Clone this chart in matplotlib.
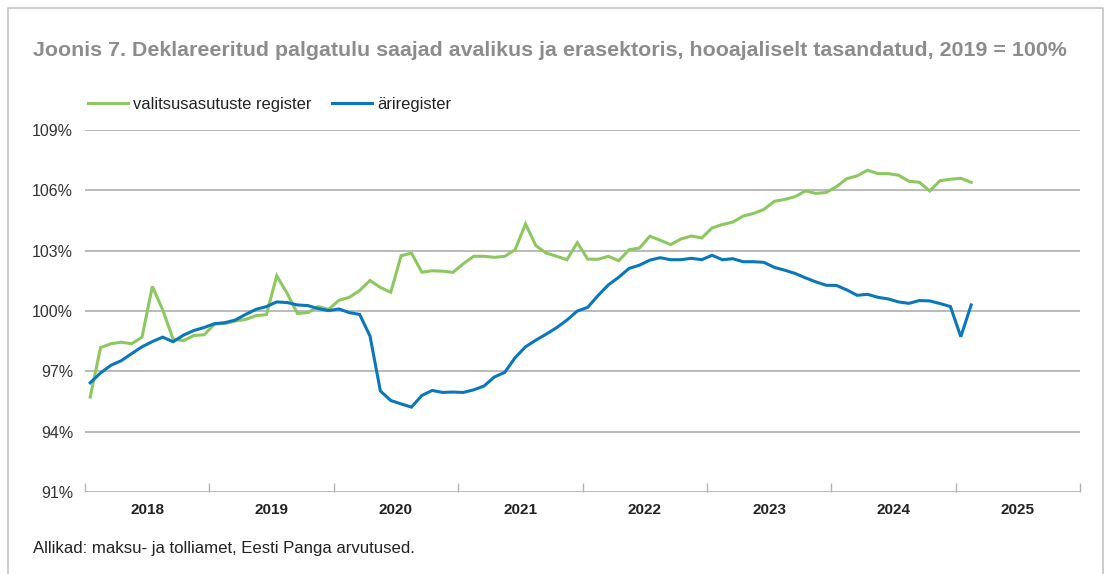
import matplotlib
matplotlib.use("Agg")
import matplotlib.pyplot as plt
from matplotlib.lines import Line2D
import numpy as np

plt.rcParams['font.family'] = ['Liberation Sans', 'DejaVu Sans']

title = "Joonis 7. Deklareeritud palgatulu saajad avalikus ja erasektoris, hooajaliselt tasandatud, 2019 = 100%"
source = "Allikad: maksu- ja tolliamet, Eesti Panga arvutused."
series_names = ["valitsusasutuste register", "äriregister"]
years = [2018, 2019, 2020, 2021, 2022, 2023, 2024, 2025]
start_year = 2018  # first month: January 2018, monthly data

valitsus = [
    95.72, 98.18, 98.37, 98.45, 98.37, 98.70, 101.22, 100.05, 98.60, 98.52, 98.78, 98.82,
    99.35, 99.38, 99.50, 99.58, 99.77, 99.82, 101.75, 100.88, 99.88, 99.92, 100.22, 100.08,
    100.53, 100.68, 101.02, 101.52, 101.17, 100.93, 102.75, 102.88, 101.93, 102.00, 101.98, 101.92,
    102.35, 102.72, 102.72, 102.67, 102.72, 103.05, 104.33, 103.25, 102.88, 102.72, 102.55, 103.40,
    102.58, 102.57, 102.72, 102.50, 103.05, 103.13, 103.72, 103.52, 103.30, 103.58, 103.73, 103.63,
    104.13, 104.30, 104.42, 104.72, 104.85, 105.05, 105.45, 105.55, 105.68, 105.97, 105.85, 105.89,
    106.18, 106.58, 106.72, 107.00, 106.83, 106.83, 106.75, 106.45, 106.40, 105.97, 106.48, 106.55,
    106.60, 106.40,
]
ari = [
    96.43, 96.92, 97.30, 97.53, 97.88, 98.22, 98.48, 98.70, 98.47, 98.80, 99.03, 99.18,
    99.37, 99.42, 99.55, 99.83, 100.08, 100.22, 100.45, 100.42, 100.30, 100.27, 100.12, 100.02,
    100.10, 99.92, 99.83, 98.75, 96.02, 95.55, 95.38, 95.22, 95.80, 96.05, 95.95, 95.97,
    95.95, 96.08, 96.27, 96.72, 96.95, 97.68, 98.22, 98.55, 98.85, 99.17, 99.55, 100.00,
    100.18, 100.77, 101.30, 101.68, 102.12, 102.28, 102.53, 102.65, 102.55, 102.55, 102.62, 102.55,
    102.77, 102.55, 102.60, 102.45, 102.45, 102.42, 102.17, 102.03, 101.87, 101.65, 101.45, 101.28,
    101.27, 101.05, 100.78, 100.83, 100.68, 100.60, 100.45, 100.38, 100.52, 100.50, 100.37, 100.22,
    98.72, 100.30,
]
yticks = [91, 94, 97, 100, 103, 106, 109]

GREEN = '#8cc85f'
BLUE = '#0a77bb'
GRID = '#b4b4b4'

W, H = 1108, 574
fig = plt.figure(figsize=(W / 100, H / 100), dpi=100)
ax = fig.add_axes([85 / W, 1 - 492 / H, (1080 - 85) / W, (492 - 130) / H])

x_g = start_year + (np.arange(len(valitsus)) + 0.5) / 12
x_b = start_year + (np.arange(len(ari)) + 0.5) / 12
l1, = ax.plot(x_g, valitsus, color=GREEN, lw=2.2, solid_joinstyle='miter', zorder=3)
l2, = ax.plot(x_b, ari, color=BLUE, lw=2.2, solid_joinstyle='miter', zorder=4)

ax.set_xlim(years[0], years[-1] + 1)
ax.set_ylim(yticks[0], yticks[-1])
ax.set_yticks(yticks)
ax.set_yticklabels([f"{v}%" for v in yticks], fontsize=11.5, color='#333333')
for v in yticks:
    ax.axhline(v, color=GRID, lw=1.3, zorder=1)

ax.set_xticks(list(range(years[0], years[-1] + 2)))
ax.set_xticklabels([])
ax.set_xticks([y + 0.5 for y in years], minor=True)
ax.set_xticklabels([str(y) for y in years], minor=True, fontsize=11, fontweight='bold', color='#222222')
ax.tick_params(axis='x', which='major', direction='in', length=6.5, width=1, color=GRID)
ax.tick_params(axis='x', which='minor', length=0, pad=8)
ax.tick_params(axis='y', length=0, pad=8.5)
for s in ax.spines.values():
    s.set_visible(False)

fig.text(33 / W, 1 - 50 / H, title, fontsize=15.4, fontweight='bold', color='#8c8c8c',
         ha='left', va='center')
fig.text(33 / W, 1 - 548 / H, source, fontsize=12.1, color='#222222', ha='left', va='center')

fs = 11.9
fpx = fs * 100 / 72
fig.legend([l1, l2], series_names, loc='center left', bbox_to_anchor=(88 / W, 1 - 104 / H),
           ncol=2, frameon=False, fontsize=fs, handlelength=40 / fpx, handletextpad=5 / fpx,
           columnspacing=21 / fpx, borderpad=0, borderaxespad=0, labelcolor='#222222')

bc = '#c4c4c4'
fig.add_artist(Line2D([8 / W, 8 / W, 1103 / W, 1103 / W], [-0.05, 1 - 8 / H, 1 - 8 / H, -0.05],
                      transform=fig.transFigure, color=bc, lw=1.2))

fig.savefig("out.png", dpi=100)
